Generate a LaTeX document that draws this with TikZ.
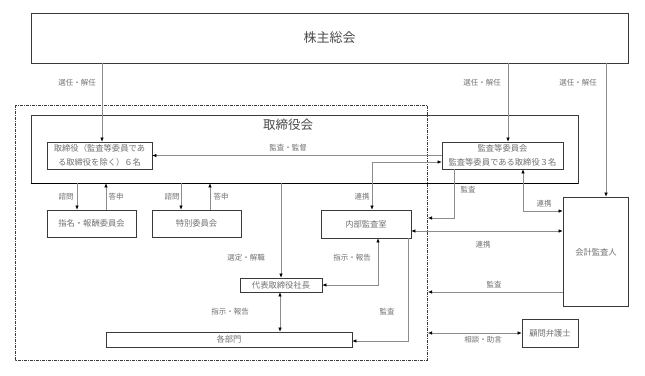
\documentclass[tikz,border=0pt]{standalone}
\usepackage{fontspec}
\setmainfont{Noto Sans CJK JP}
\usetikzlibrary{arrows.meta}
\definecolor{boxc}{HTML}{3A3A3A}
\definecolor{txtc}{HTML}{707070}
\definecolor{titc}{HTML}{4A4A4A}
\definecolor{linec}{HTML}{8C8C8C}
\begin{document}
\begin{tikzpicture}[x=1pt,y=-1pt,
  box/.style={draw=boxc, line width=0.7pt, inner sep=0pt, text=txtc,
    font=\fontsize{8.3}{14}\selectfont, align=center},
  lbl/.style={text=txtc, font=\fontsize{7.5}{9}\selectfont, inner sep=0pt},
  conn/.style={draw=linec, line width=0.6pt},
  arr/.style={conn, -{Latex[length=4pt,width=3.5pt,color=black]}},
  dbl/.style={conn, {Latex[length=4pt,width=3.5pt,color=black]}-{Latex[length=4pt,width=3.5pt,color=black]}},
  framec/.style={draw=boxc, line width=0.8pt, dash pattern=on 3pt off 1pt on 1pt off 1pt}
]
\useasboundingbox (0,0) rectangle (645,375);

% boxes
\node[box, text=titc, minimum width=597pt, minimum height=50pt, font=\fontsize{13}{15}\selectfont] (agm) at (329.5,38) {株主総会};
\node[box, minimum width=547pt, minimum height=68pt] (board) at (304.5,149) {};
\draw[black, line width=1pt] (board.south west) -- (board.south east);
\node[text=titc, font=\fontsize{12.5}{14}\selectfont, inner sep=0pt] (boardt) at (288,125) {取締役会};
\node[box, fill=white, minimum width=105pt, minimum height=27pt] (dirs) at (99.5,155.5) {取締役（監査等委員であ\\る取締役を除く）６名};
\node[box, fill=white, minimum width=121pt, minimum height=27pt] (acc) at (502.5,155.5) {監査等委員会\\監査等委員である取締役３名};
\node[box, minimum width=89pt, minimum height=27pt] (nom) at (91.5,223.5) {指名・報酬委員会};
\node[box, minimum width=89pt, minimum height=27pt] (spec) at (196.5,223.5) {特別委員会};
\node[box, minimum width=90pt, minimum height=28pt] (ia) at (366,224) {内部監査室};
\node[box, minimum width=65pt, minimum height=109pt] (auditor) at (595.5,251.5) {};
\node[text=txtc, font=\fontsize{8.3}{10}\selectfont, inner sep=0pt] (auditort) at (596,252) {会計監査人};
\node[box, minimum width=82pt, minimum height=14pt] (ceo) at (281,285) {代表取締役社長};
\node[box, minimum width=246pt, minimum height=15pt] (depts) at (229,339.5) {各部門};
\node[box, minimum width=56pt, minimum height=28pt] (lawyer) at (550,333) {顧問弁護士};

% frame
\draw[framec] (15,105) rectangle (427,360);
\coordinate (f1) at (428,218);
\coordinate (f2) at (428,292);
\coordinate (f3) at (428,333);

% shareholders
\draw[arr] ([xshift=2.5pt]dirs.north |- agm.south) -- ([xshift=2.5pt]dirs.north);
\draw[arr] ([xshift=5.5pt]acc.north |- agm.south) -- ([xshift=5.5pt]acc.north);
\draw[arr] ([xshift=10.5pt]auditor.north |- agm.south) -- ([xshift=10.5pt]auditor.north);
\node[lbl] (l1) at (77,83) {選任・解任};
\node[lbl] (l2) at (482,83) {選任・解任};
\node[lbl] (l3) at (578,83) {選任・解任};

% audit committee to directors
\draw[arr] (acc.west) -- (dirs.east);
\node[lbl] (l4) at (288,148) {監査・監督};

% audit committee <-> internal audit
\draw[dbl] ([yshift=-6.5pt]acc.west) -| ([xshift=6pt]ia.north);
\node[lbl] (l5) at (362,197) {連携};

% audit committee audit -> frame
\draw[arr] ([xshift=-48.5pt]acc.south) |- (f1);
\node[lbl] (l6) at (468,190) {監査};

% audit committee <-> auditor
\draw[dbl] ([xshift=20.5pt]acc.south) |- ([yshift=40.5pt]auditor.west);
\node[lbl] (l7) at (544,204) {連携};

% committees
\draw[arr] ([xshift=-14.5pt]nom.north |- board.south) -- ([xshift=-14.5pt]nom.north);
\draw[arr] ([xshift=14.5pt]nom.north) -- ([xshift=14.5pt]nom.north |- board.south);
\draw[arr] ([xshift=-15.5pt]spec.north |- board.south) -- ([xshift=-15.5pt]spec.north);
\draw[arr] ([xshift=13.5pt]spec.north) -- ([xshift=13.5pt]spec.north |- board.south);
\node[lbl] (l8) at (66,197) {諮問};
\node[lbl] (l9) at (116,197) {答申};
\node[lbl] (l10) at (172,197) {諮問};
\node[lbl] (l11) at (221,197) {答申};

% board -> ceo
\draw[arr] (ceo.north |- board.south) -- (ceo.north);
\node[lbl] (l12) at (246,258) {選定・解職};
\draw[dbl] ([xshift=-1pt]ceo.south) -- ([xshift=-1pt]ceo.south |- depts.north);
\node[lbl] (l13) at (230,312) {指示・報告};

% ceo <-> internal audit
\draw[dbl] (ceo.east) -| ([xshift=12pt]ia.south);
\node[lbl] (l14) at (352,258) {指示・報告};

% internal audit -> depts
\draw[arr] ([xshift=42pt]ia.south) |- ([yshift=-1.5pt]depts.east);
\node[lbl] (l15) at (387,312) {監査};

% internal audit <-> auditor
\draw[dbl] ([yshift=-7pt]ia.east) -- ([yshift=-7pt]ia.east -| auditor.west);
\node[lbl] (l16) at (483,245) {連携};

% auditor -> frame
\draw[arr] ([yshift=-40.5pt]auditor.west) -- (f2);
\node[lbl] (l17) at (494,285) {監査};

% lawyer
\draw[dbl] (f3) -- (lawyer.west);
\node[lbl] (l18) at (483,340) {相談・助言};
\end{tikzpicture}
\end{document}
